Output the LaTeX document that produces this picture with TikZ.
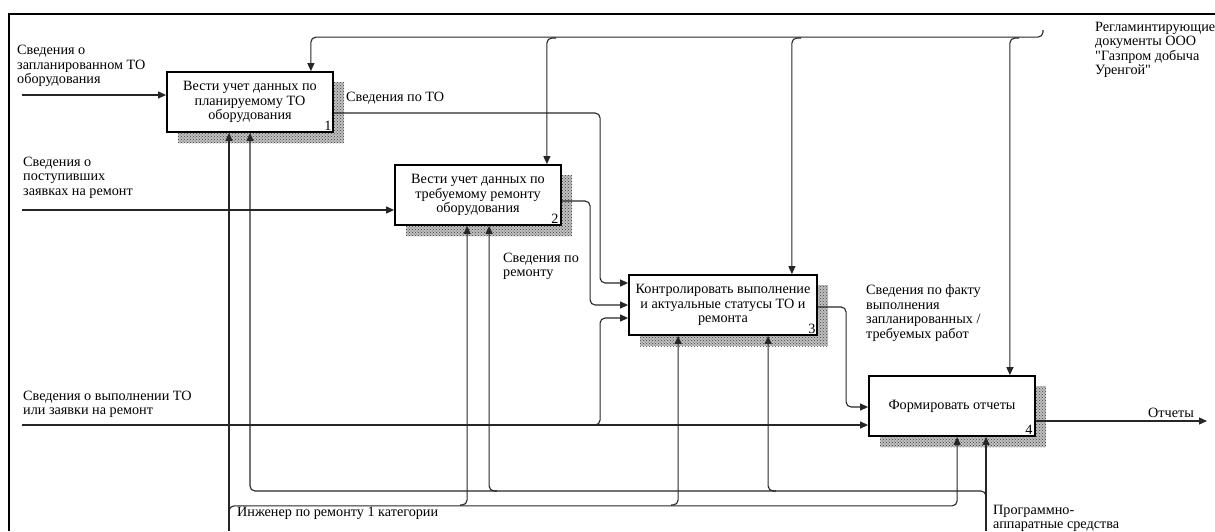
\documentclass[tikz,border=0pt]{standalone}
\usepackage{fontspec}
\setmainfont{Liberation Serif}[Ligatures=TeXOff]
\usetikzlibrary{arrows.meta,calc,patterns}
\newcommand\lblfont{\fontsize{14.2}{14.5}\selectfont}
\tikzset{
  box/.style={draw, line width=1.8pt, fill=white, minimum height=60pt, inner sep=2pt, align=center, font=\lblfont},
  shadowfill/.style={fill=black!25, postaction={pattern=crosshatch dots, pattern color=black!75}},
  conn/.style={line width=1.1pt, draw=black!85, rounded corners=5pt},
  arr/.style={conn, -{Triangle[length=8pt,width=7pt]}},
  lbl/.style={anchor=north west, inner sep=0pt, align=left, font=\lblfont},
  num/.style={inner sep=0pt, font=\lblfont},
}
\begin{document}
\begin{tikzpicture}[x=1pt,y=-1pt]
\useasboundingbox (0,0) rectangle (1215,531);
% frame
\draw[line width=2.5pt] (9,531) -- (9,14) -- (1215,14);
% shadows
\path[shadowfill] (178,82) rectangle (344,143);
\path[shadowfill] (406,175) rectangle (572,236);
\path[shadowfill] (640,285) rectangle (828,346);
\path[shadowfill] (880,386) rectangle (1046,447);
% boxes
\node[box, minimum width=166pt] (b1) at (250,102) {Вести учет данных по\\планируемому ТО\\оборудования};
\node[box, minimum width=166pt] (b2) at (478,195) {Вести учет данных по\\требуемому ремонту\\оборудования};
\node[box, minimum width=188pt] (b3) at (723,305) {Контролировать выполнение\\и актуальные статусы ТО и\\ремонта};
\node[box, minimum width=166pt] (b4) at (952,406) {Формировать отчеты};
\node[num] at ($(b1.south east)+(-6,-7)$) {1};
\node[num] at ($(b2.south east)+(-7,-7)$) {2};
\node[num] at ($(b3.south east)+(-6,-7)$) {3};
\node[num] at ($(b4.south east)+(-7,-7)$) {4};
% control
\coordinate (ctl) at (1043,30);
\draw[arr] (ctl) |- ($(b1.north east)+(-23,-34)$) -- ($(b1.north east)+(-23,0)$);
\draw[arr] (556,38) -| ($(b2.north east)+(-15,0)$);
\draw[arr] (801,38) -| ($(b3.north east)+(-26,0)$);
\draw[arr] (1019,38) -| ($(b4.north east)+(-26,0)$);
% inputs
\coordinate (i1) at (22,95);
\coordinate (i2) at (22,210);
\coordinate (i3) at (22,425);
\draw[arr] (i1) -- (i1 -| b1.west);
\draw[arr] (i2) -- (i2 -| b2.west);
\draw[arr] (i3) -- (i3 -| b4.west);
\draw[arr] (591,425) -| ($(b3.west)+(-28,13)$) -- ($(b3.west)+(0,13)$);
% outputs
\draw[arr] ($(b1.east)+(0,11)$) -| ($(b3.west)+(-28,-22)$) -- ($(b3.west)+(0,-22)$);
\draw[arr] ($(b2.east)+(0,6)$) -| ($(b3.west)+(-38,0)$) -- (b3.west);
\draw[arr] ($(b3.east)+(0,2)$) -| ($(b4.west)+(-22,1)$) -- ($(b4.west)+(0,1)$);
\coordinate (out) at (1207,421);
\draw[arr] (b4.east |- out) -- (out);
% mechanisms
\coordinate (m1) at (229,531);
\draw[arr] (m1) -- (m1 |- b1.south);
\draw[arr] (229,512) |- ($(b4.south west)+(89,69)$) -- ($(b4.south west)+(89,0)$);
\draw[arr] (460,505) -| ($(b2.south west)+(73,0)$);
\draw[arr] (671,505) -| ($(b3.south west)+(50,0)$);
\coordinate (m2) at (986,531);
\coordinate (m2j) at (250,491);
\draw[arr] (m2) -- (m2 |- b4.south);
\draw[arr] (986,497) |- (m2j) -- (m2j |- b1.south);
\draw[arr] (776,491) -| ($(b3.south west)+(140,0)$);
\draw[arr] (497,491) -| ($(b2.south west)+(95,0)$);
% labels
\node[lbl] at (17,45) {Сведения о\\запланированном ТО\\оборудования};
\node[lbl] at (346,91.5) {Сведения по ТО};
\node[lbl] at (23,156.5) {Сведения о\\поступивших\\заявках на ремонт};
\node[lbl] at (503,252.5) {Сведения по\\ремонту};
\node[lbl] at (866,284.5) {Сведения по факту\\выполнения\\запланированных /\\требуемых работ};
\node[lbl] at (1095,21.5) {Регламинтирующие\\документы ООО\\"Газпром добыча\\Уренгой"};
\node[lbl] at (23,390.5) {Сведения о выполнении ТО\\или заявки на ремонт};
\node[lbl] at (1148,407.5) {Отчеты};
\node[lbl] at (237,506.5) {Инженер по ремонту 1 категории};
\node[lbl] at (993,504.5) {Программно-\\аппаратные средства};
\end{tikzpicture}
\end{document}
